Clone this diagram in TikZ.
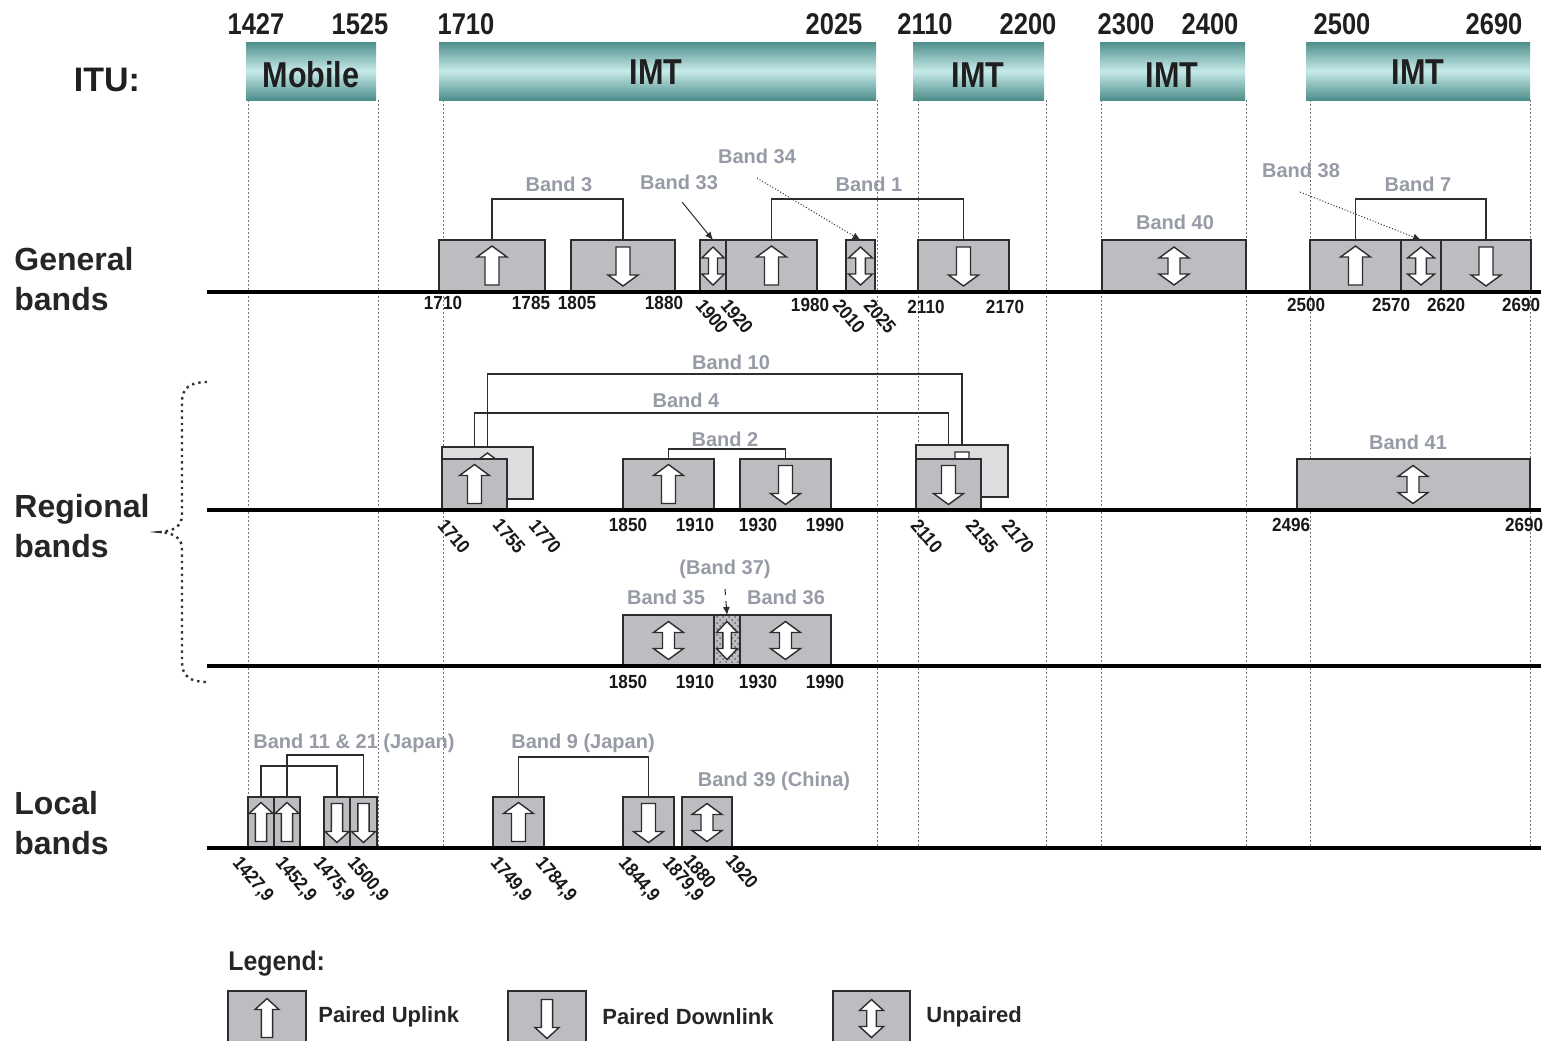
\documentclass[tikz,border=0pt]{standalone}
\usepackage{fontspec}
\setmainfont{Liberation Sans}
\usetikzlibrary{arrows.meta,patterns}
\definecolor{boxgray}{RGB}{188,189,193}
\definecolor{lightbox}{RGB}{221,221,223}
\definecolor{lblgray}{RGB}{150,155,166}
\definecolor{tealdark}{RGB}{78,142,139}
\definecolor{teallight}{RGB}{198,234,233}
\definecolor{edgecol}{RGB}{45,45,45}
\newcommand{\cnd}[2]{\scalebox{#1}[1]{#2}}
\newcommand{\tk}[1]{\cnd{0.9}{#1}}
\pgfdeclarelayer{back}
\pgfdeclarelayer{bg}
\pgfsetlayers{back,bg,main}
% box node: [extra style]{name}{x1}{x2}{ytop}{ybot}
\newcommand{\bbox}[6][]{\node[bandbox,#1,minimum width={(#4-#3)*0.5pt},minimum height={(#6-#5)*0.5pt}] (#2) at ({(#3+#4)/2},{(#5+#6)/2}) {};}
\newcommand{\uparr}[3]{\draw[arrowline] ({#1-7*#3},{#2+19}) -- ({#1-7*#3},{#2-9}) -- ({#1-15*#3},{#2-9}) -- (#1,{#2-20}) -- ({#1+15*#3},{#2-9}) -- ({#1+7*#3},{#2-9}) -- ({#1+7*#3},{#2+19}) -- cycle;}
\newcommand{\dnarr}[3]{\draw[arrowline] ({#1-7*#3},{#2-19}) -- ({#1-7*#3},{#2+9}) -- ({#1-15*#3},{#2+9}) -- (#1,{#2+20}) -- ({#1+15*#3},{#2+9}) -- ({#1+7*#3},{#2+9}) -- ({#1+7*#3},{#2-19}) -- cycle;}
\newcommand{\biarr}[3]{\draw[arrowline] (#1,{#2-19}) -- ({#1+15*#3},{#2-8}) -- ({#1+6*#3},{#2-8}) -- ({#1+6*#3},{#2+8}) -- ({#1+15*#3},{#2+8}) -- (#1,{#2+19}) -- ({#1-15*#3},{#2+8}) -- ({#1-6*#3},{#2+8}) -- ({#1-6*#3},{#2-8}) -- ({#1-15*#3},{#2-8}) -- cycle;}
\begin{document}
\begin{tikzpicture}[x=0.5pt,y=-0.5pt,
  bandbox/.style={draw=edgecol,line width=0.9pt,fill=boxgray,inner sep=0pt,outer sep=0pt},
  lightbandbox/.style={fill=lightbox},
  hatch/.style={preaction={fill=boxgray},pattern=crosshatch dots,pattern color=black!60},
  arrowline/.style={draw=edgecol,fill=white,line width=0.7pt,line join=miter},
  brk/.style={draw=edgecol,line width=0.8pt},
  axisline/.style={line width=1.6pt,black},
  gridline/.style={black!55,line width=0.5pt,dash pattern=on 1pt off 1pt},
  bandlbl/.style={text=lblgray,font=\fontsize{10}{12}\selectfont\bfseries,inner sep=1pt},
  ticklbl/.style={font=\fontsize{9.5}{10}\selectfont\bfseries,inner sep=0pt,text=black!90},
  rticklbl/.style={ticklbl,rotate=-50,anchor=north west},
  topnum/.style={font=\fontsize{15}{18}\selectfont\bfseries,text=black!88},
  itubox/.style={shading=axis,top color=tealdark,bottom color=tealdark,middle color=teallight,inner sep=0pt,font=\fontsize{18}{20}\selectfont\bfseries,text=black!88},
  itutext/.style={font=\fontsize{18}{20}\selectfont\bfseries,text=black!88,inner sep=0pt},
  rowlbl/.style={font=\fontsize{16}{20}\selectfont\bfseries,align=left,anchor=west,text=black!85,inner sep=0pt},
  legtxt/.style={font=\fontsize{11}{13}\selectfont\bfseries,anchor=west,inner sep=0pt,text=black!85},
  ptr/.style={line width=0.5pt,edgecol,-{Latex[length=4pt,width=3.5pt]}},
  curlyb/.style={line width=1.2pt,dotted,black!80}]
\useasboundingbox (0,0) rectangle (1545,1040);
\begin{pgfonlayer}{back}
\fill[white] (0,0) rectangle (1545,1040);
\end{pgfonlayer}

% ---- ITU header
\node[font=\fontsize{17}{20}\selectfont\bfseries,text=black!88] (itu) at (107,80) {ITU:};
\node[itubox,minimum width={130*0.5pt},minimum height={58*0.5pt}] (mob) at (311,71) {};
\node[itubox,minimum width={437*0.5pt},minimum height={58*0.5pt}] (imt1) at (657.5,71) {};
\node[itubox,minimum width={131*0.5pt},minimum height={58*0.5pt}] (imt2) at (978.5,71) {};
\node[itubox,minimum width={145*0.5pt},minimum height={58*0.5pt}] (imt3) at (1172.5,71) {};
\node[itubox,minimum width={224*0.5pt},minimum height={58*0.5pt}] (imt4) at (1418,71) {};
\node[itutext] (tmob) at (311,75) {\cnd{0.85}{Mobile}};
\node[itutext] (timt1) at (656,72) {\cnd{0.85}{IMT}};
\node[itutext] (timt2) at (978,75) {\cnd{0.85}{IMT}};
\node[itutext] (timt3) at (1172,75) {\cnd{0.85}{IMT}};
\node[itutext] (timt4) at (1418,72) {\cnd{0.85}{IMT}};
\node[topnum] (h1427) at (256,24) {\cnd{0.85}{1427}};
\node[topnum] (h1525) at (360,24) {\cnd{0.85}{1525}};
\node[topnum] (h1710) at (466,24) {\cnd{0.85}{1710}};
\node[topnum] (h2025) at (834,24) {\cnd{0.85}{2025}};
\node[topnum] (h2110) at (925,24) {\cnd{0.85}{2110}};
\node[topnum] (h2200) at (1028,24) {\cnd{0.85}{2200}};
\node[topnum] (h2300) at (1126,24) {\cnd{0.85}{2300}};
\node[topnum] (h2400) at (1210,24) {\cnd{0.85}{2400}};
\node[topnum] (h2500) at (1342,24) {\cnd{0.85}{2500}};
\node[topnum] (h2690) at (1494,24) {\cnd{0.85}{2690}};

% ---- row labels
\node[rowlbl] (gen) at (14,279) {General\\bands};
\node[rowlbl] (reg) at (14,526) {Regional\\bands};
\node[rowlbl] (loc) at (14,823) {Local\\bands};
\draw[curlyb] (207,382) .. controls (190,382) and (182,388) .. (182,402) -- (182,515) .. controls (182,526) and (174,531) .. (160,532) .. controls (174,533) and (182,538) .. (182,549) -- (182,662) .. controls (182,676) and (190,682) .. (207,682);

% ---- grid lines
\begin{pgfonlayer}{bg}
\foreach \x in {248,378,443,877,918,1046,1101,1246,1310,1530}
  \draw[gridline] (\x,100) -- (\x,848);
\end{pgfonlayer}

% ---- general bands
\bbox{b3u}{439}{545}{240}{292}
\bbox{b3d}{571}{675}{240}{292}
\bbox{b33}{700}{726}{240}{292}
\bbox{b1u}{726}{817}{240}{292}
\bbox{b34}{846}{875}{240}{292}
\bbox{b1d}{918}{1009}{240}{292}
\bbox{b40}{1102}{1246}{240}{292}
\bbox{b7u}{1310}{1401}{240}{292}
\bbox{b38}{1401}{1441}{240}{292}
\bbox{b7d}{1441}{1531}{240}{292}
\uparr{492}{266}{1}
\dnarr{623}{266}{1}
\biarr{713}{266}{0.75}
\uparr{771.5}{266}{1}
\biarr{860.5}{266}{0.8}
\dnarr{963.5}{266}{1}
\biarr{1174}{266}{1}
\uparr{1355.5}{266}{1}
\biarr{1421}{266}{0.9}
\dnarr{1486}{266}{1}

% ---- regional bands
\bbox[lightbandbox]{r10u}{442}{533}{447}{499}
\uparr{487.5}{473}{1}
\bbox[lightbandbox]{r10d}{916}{1008}{445}{497}
\dnarr{962}{471}{1}
\bbox{r4u}{442}{507}{459}{510}
\uparr{474.5}{484.5}{1}
\bbox{r4d}{916}{981}{459}{510}
\dnarr{948.5}{484.5}{1}
\bbox{r2u}{623}{714}{459}{510}
\uparr{668.5}{484.5}{1}
\bbox{r2d}{740}{831}{459}{510}
\dnarr{785.5}{484.5}{1}
\bbox{r41}{1297}{1530}{459}{510}
\biarr{1413}{484.5}{1}
\bbox{r35}{623}{714}{615}{666}
\biarr{668.5}{640.5}{1}
\bbox[hatch]{r37}{714}{740}{615}{666}
\biarr{727}{640.5}{0.7}
\bbox{r36}{740}{831}{615}{666}
\biarr{785.5}{640.5}{1}

% ---- local bands
\bbox{l11u}{248}{274}{797}{848}
\bbox{l21u}{274}{300}{797}{848}
\bbox{l11d}{324}{350}{797}{848}
\bbox{l21d}{350}{377}{797}{848}
\uparr{261}{822.5}{0.8}
\uparr{287}{822.5}{0.8}
\dnarr{337}{822.5}{0.8}
\dnarr{363.5}{822.5}{0.8}
\bbox{l9u}{493}{544}{797}{848}
\bbox{l9d}{623}{674}{797}{848}
\bbox{l39}{682}{732}{797}{848}
\uparr{518.5}{822.5}{1}
\dnarr{648.5}{822.5}{1}
\biarr{707}{822.5}{1}

% ---- axes
\foreach \y in {292,510,666,848} \draw[axisline] (207,\y) -- (1541,\y);

% ---- brackets
\begin{pgfonlayer}{bg}
\draw[brk] (b3u.north) -- ++(0,-41) -| (b3d.north);
\draw[brk] (b1u.north) -- ++(0,-41) -| (b1d.north);
\draw[brk] (b7u.north) -- ++(0,-41) -| (b7d.north);
\draw[brk] (r10u.north) -- ++(0,-73) -| (r10d.north);
\draw[brk] (r4u.north) -- ++(0,-46) -| (r4d.north);
\draw[brk] (r2u.north) -- ++(0,-10) -| (r2d.north);
\draw[brk] (l11u.north) -- ++(0,-31) -| (l11d.north);
\draw[brk] (l21u.north) -- ++(0,-42) -| (l21d.north);
\draw[brk] (l9u.north) -- ++(0,-40) -| (l9d.north);
\end{pgfonlayer}

% ---- pointer arrows
\coordinate (p33) at (682,202);
\coordinate (p34) at (757,178);
\coordinate (p38) at (1300,192);
\coordinate (p37) at (725,589);
\draw[ptr] (p33) -- (b33.north);
\draw[ptr,densely dotted] (p34) -- (b34.north);
\draw[ptr,densely dotted] (p38) -- (b38.north);
\draw[ptr,dashed] (p37) -- (r37.north);

% ---- band labels
\node[bandlbl] (lb3) at (559,184) {Band 3};
\node[bandlbl] (lb33) at (679,182) {Band 33};
\node[bandlbl] (lb34) at (757,156) {Band 34};
\node[bandlbl] (lb1) at (869,184) {Band 1};
\node[bandlbl] (lb40) at (1175,222) {Band 40};
\node[bandlbl] (lb38) at (1301,170) {Band 38};
\node[bandlbl] (lb7) at (1418,184) {Band 7};
\node[bandlbl] (lb10) at (731,362) {Band 10};
\node[bandlbl] (lb4) at (686,400) {Band 4};
\node[bandlbl] (lb2) at (725,439) {Band 2};
\node[bandlbl] (lb41) at (1408,442) {Band 41};
\node[bandlbl] (lb37) at (725,569) {(Band 37)};
\node[bandlbl] (lb35) at (666,597) {Band 35};
\node[bandlbl] (lb36) at (786,597) {Band 36};
\node[bandlbl] (lb11) at (354,743) {Band 11 \& 21 (Japan)};
\node[bandlbl] (lb9) at (583,743) {Band 9 (Japan)};
\node[bandlbl] (lb39) at (774,781) {Band 39 (China)};

% ---- tick labels general
\node[ticklbl] (g1710) at (443,303) {\tk{1710}};
\node[ticklbl] (g1785) at (531,303) {\tk{1785}};
\node[ticklbl] (g1805) at (577,303) {\tk{1805}};
\node[ticklbl] (g1880) at (664,303) {\tk{1880}};
\node[rticklbl] (g1900) at (705,297) {\tk{1900}};
\node[rticklbl] (g1920) at (730,297) {\tk{1920}};
\node[ticklbl] (g1980) at (810,305) {\tk{1980}};
\node[rticklbl] (g2010) at (842,297) {\tk{2010}};
\node[rticklbl] (g2025) at (873,297) {\tk{2025}};
\node[ticklbl] (g2110) at (926,307) {\tk{2110}};
\node[ticklbl] (g2170) at (1005,307) {\tk{2170}};
\node[ticklbl] (g2500) at (1306,305) {\tk{2500}};
\node[ticklbl] (g2570) at (1391,305) {\tk{2570}};
\node[ticklbl] (g2620) at (1446,305) {\tk{2620}};
\node[ticklbl] (g2690) at (1521,305) {\tk{2690}};

% ---- tick labels regional
\node[rticklbl] (r1710) at (447,517) {\tk{1710}};
\node[rticklbl] (r1755) at (502,517) {\tk{1755}};
\node[rticklbl] (r1770) at (538,517) {\tk{1770}};
\node[ticklbl] (r1850) at (628,525) {\tk{1850}};
\node[ticklbl] (r1910) at (695,525) {\tk{1910}};
\node[ticklbl] (r1930) at (758,525) {\tk{1930}};
\node[ticklbl] (r1990) at (825,525) {\tk{1990}};
\node[rticklbl] (r2110) at (920,517) {\tk{2110}};
\node[rticklbl] (r2155) at (975,517) {\tk{2155}};
\node[rticklbl] (r2170) at (1011,517) {\tk{2170}};
\node[ticklbl] (r2496) at (1291,525) {\tk{2496}};
\node[ticklbl] (r2690) at (1524,525) {\tk{2690}};
\node[ticklbl] (s1850) at (628,682) {\tk{1850}};
\node[ticklbl] (s1910) at (695,682) {\tk{1910}};
\node[ticklbl] (s1930) at (758,682) {\tk{1930}};
\node[ticklbl] (s1990) at (825,682) {\tk{1990}};

% ---- tick labels local
\node[rticklbl] (k14279) at (242,854) {\tk{1427,9}};
\node[rticklbl] (k14529) at (285,854) {\tk{1452,9}};
\node[rticklbl] (k14759) at (323,854) {\tk{1475,9}};
\node[rticklbl] (k15009) at (357,854) {\tk{1500,9}};
\node[rticklbl] (k17499) at (500,854) {\tk{1749,9}};
\node[rticklbl] (k17849) at (545,854) {\tk{1784,9}};
\node[rticklbl] (k18449) at (628,854) {\tk{1844,9}};
\node[rticklbl] (k18799) at (672,854) {\tk{1879,9}};
\node[rticklbl] (k1880) at (693,852) {\tk{1880}};
\node[rticklbl] (k1920) at (735,852) {\tk{1920}};

% ---- legend
\node[font=\fontsize{13.5}{16}\selectfont\bfseries,anchor=west,inner sep=0pt,text=black!85] (leg) at (228,964) {\cnd{0.92}{Legend:}};
\bbox{lg1}{228}{306}{991}{1052}
\bbox{lg2}{508}{586}{991}{1052}
\bbox{lg3}{833}{910}{991}{1052}
\uparr{267}{1018.5}{0.8}
\dnarr{547}{1018.5}{0.8}
\biarr{871.5}{1018.5}{0.8}
\node[legtxt] (lt1) at (318,1017) {Paired Uplink};
\node[legtxt] (lt2) at (602,1017) {Paired Downlink};
\node[legtxt] (lt3) at (926,1017) {Unpaired};
\end{tikzpicture}
\end{document}
